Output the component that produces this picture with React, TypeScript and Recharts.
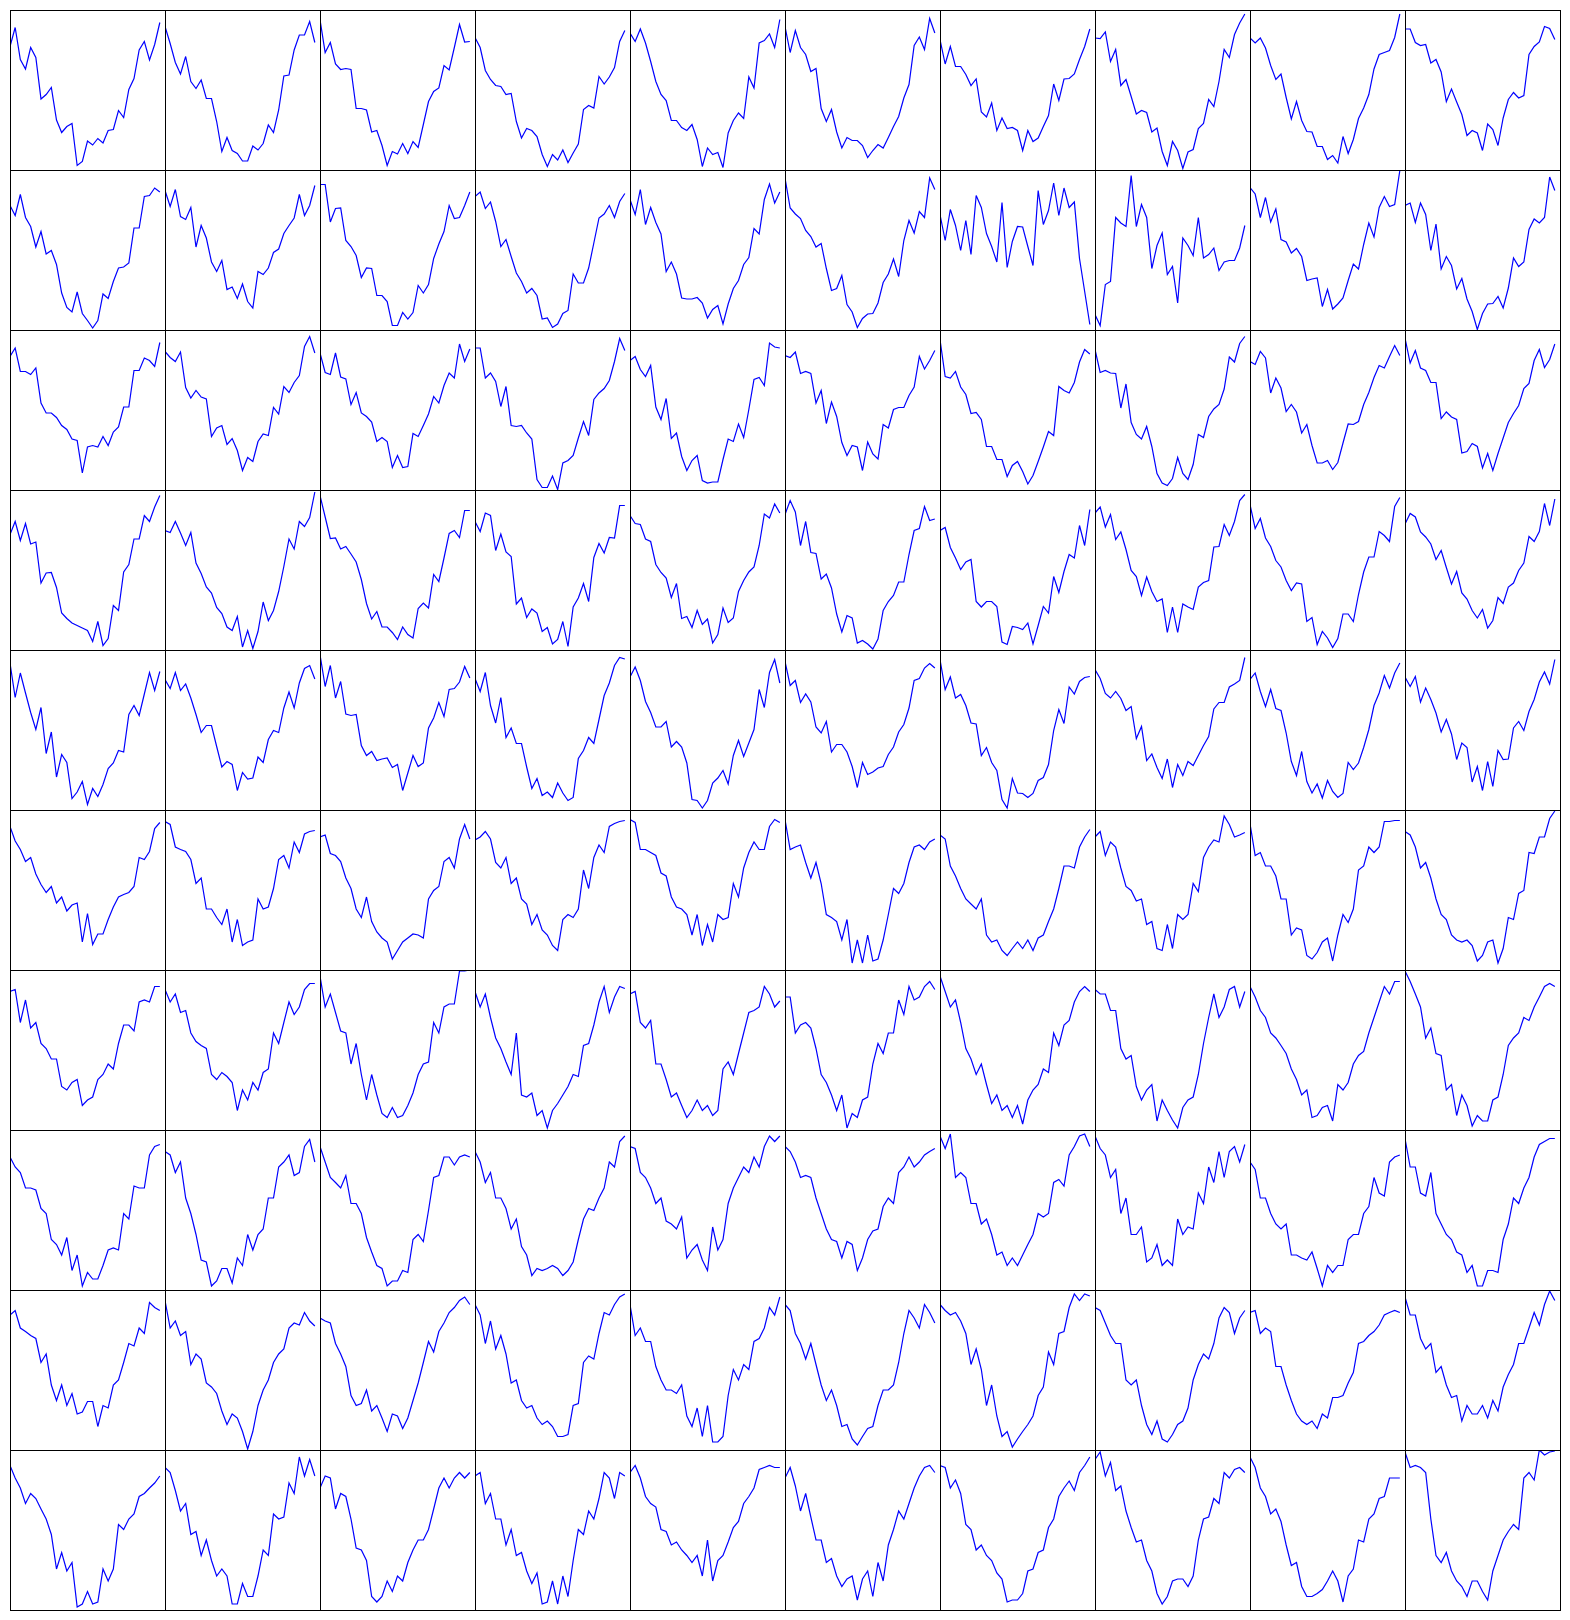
import React from "react";
import { LineChart, Line, XAxis, YAxis } from "recharts";

// 30 samples per panel, x = sample index 0..29
const SAMPLE_INDEX: number[] = Array.from({ length: 30 }, (_, i) => i);

const row0: number[][] = [
  [0.87, 1.25, 0.61, 0.42, 0.85, 0.65, -0.18, -0.09, 0.05, -0.6, -0.85, -0.73, -0.67, -1.51, -1.43, -1.02, -1.1, -0.97, -1.06, -0.81, -0.79, -0.41, -0.55, 0.01, 0.23, 0.8, 0.97, 0.6, 0.91, 1.35],
  [1.27, 0.93, 0.55, 0.32, 0.67, 0.17, 0.03, 0.2, -0.17, -0.17, -0.63, -1.23, -0.95, -1.21, -1.27, -1.42, -1.42, -1.12, -1.2, -1.07, -0.7, -0.85, -0.4, 0.28, 0.3, 0.8, 1.1, 1.1, 1.37, 0.95],
  [1.41, 0.75, 0.95, 0.52, 0.41, 0.43, 0.41, -0.37, -0.37, -0.4, -0.84, -0.81, -1.11, -1.51, -1.23, -1.28, -1.07, -1.27, -1.03, -1.15, -0.69, -0.23, -0.03, 0.04, 0.49, 0.4, 0.85, 1.31, 0.96, 0.97],
  [1.05, 0.85, 0.39, 0.21, 0.09, 0.07, -0.09, -0.07, -0.63, -0.96, -0.77, -0.81, -0.93, -1.29, -1.53, -1.29, -1.4, -1.2, -1.45, -1.26, -1.08, -0.39, -0.31, -0.36, 0.27, 0.12, 0.26, 0.45, 0.97, 1.19],
  [1.14, 0.97, 1.22, 0.94, 0.57, 0.17, -0.09, -0.21, -0.61, -0.61, -0.75, -0.81, -0.69, -0.99, -1.53, -1.16, -1.29, -1.25, -1.55, -0.86, -0.61, -0.46, -0.57, 0.26, 0.04, 0.94, 0.99, 1.12, 0.85, 1.41],
  [1.27, 0.75, 1.19, 0.85, 0.71, 0.37, 0.43, -0.37, -0.63, -0.39, -0.84, -1.16, -0.95, -1.01, -1.01, -1.11, -1.35, -1.21, -1.09, -1.16, -0.95, -0.73, -0.53, -0.16, 0.11, 0.89, 1.06, 0.81, 1.43, 1.14],
  [1.01, 0.52, 0.87, 0.47, 0.47, 0.31, 0.09, 0.22, -0.44, -0.54, -0.26, -0.81, -0.56, -0.77, -0.75, -0.81, -1.21, -0.81, -1.03, -0.96, -0.73, -0.51, 0.12, -0.21, 0.22, 0.23, 0.32, 0.61, 0.87, 1.22],
  [1.04, 1.03, 1.16, 0.57, 0.81, 0.09, 0.21, -0.13, -0.48, -0.41, -0.45, -0.84, -0.76, -1.23, -1.51, -1.03, -1.21, -1.57, -1.24, -1.19, -0.77, -0.67, -0.19, -0.33, 0.17, 0.81, 0.65, 1.11, 1.34, 1.52],
  [1.04, 0.94, 1.04, 0.84, 0.49, 0.21, 0.32, -0.15, -0.58, -0.23, -0.61, -0.83, -0.84, -1.13, -1.13, -1.39, -1.31, -1.46, -0.93, -1.27, -0.99, -0.57, -0.36, -0.09, 0.42, 0.71, 0.75, 0.79, 1.05, 1.52],
  [1.22, 1.22, 0.95, 0.89, 0.91, 0.54, 0.61, 0.36, -0.23, 0.02, -0.24, -0.49, -0.91, -0.81, -0.86, -1.21, -0.68, -0.79, -1.11, -0.56, -0.19, -0.05, -0.16, -0.11, 0.71, 0.87, 0.96, 1.27, 1.23, 1.01],
];

const row1: number[][] = [
  [0.89, 0.69, 1.11, 0.65, 0.47, 0.06, 0.37, -0.08, -0.01, -0.29, -0.86, -1.15, -1.24, -0.84, -1.27, -1.41, -1.56, -1.41, -0.88, -0.97, -0.63, -0.36, -0.34, -0.26, 0.44, 0.44, 1.07, 1.09, 1.24, 1.16],
  [1.19, 0.87, 1.21, 0.67, 0.61, 0.85, 0.06, 0.49, 0.24, -0.24, -0.43, -0.21, -0.79, -0.74, -0.97, -0.68, -1.03, -1.16, -0.43, -0.49, -0.36, -0.05, 0.02, 0.33, 0.49, 0.64, 1.11, 0.69, 0.89, 1.29],
  [1.31, 1.31, 0.56, 0.83, 0.84, 0.19, 0.07, -0.11, -0.55, -0.36, -0.37, -0.91, -0.91, -1.03, -1.51, -1.51, -1.25, -1.38, -1.25, -0.71, -0.86, -0.69, -0.17, 0.12, 0.37, 0.89, 0.63, 0.65, 0.89, 1.16],
  [1.07, 1.16, 0.83, 0.96, 0.57, 0.07, 0.21, -0.13, -0.46, -0.63, -0.86, -0.77, -0.91, -1.38, -1.36, -1.55, -1.48, -1.27, -1.21, -0.48, -0.66, -0.66, -0.36, 0.14, 0.64, 0.72, 0.89, 0.65, 0.97, 1.13],
  [1.01, 0.71, 1.21, 0.51, 0.85, 0.55, 0.32, -0.43, -0.24, -0.48, -0.96, -0.98, -0.98, -0.95, -1.06, -1.36, -1.19, -1.11, -1.48, -1.08, -0.77, -0.61, -0.29, -0.15, 0.43, 0.32, 1.01, 1.32, 0.94, 1.16],
  [1.44, 0.84, 0.72, 0.63, 0.39, 0.27, 0.06, 0.13, -0.37, -0.81, -0.77, -0.51, -1.09, -1.24, -1.55, -1.37, -1.28, -1.27, -1.06, -0.65, -0.48, -0.18, -0.53, 0.19, 0.59, 0.34, 0.77, 0.65, 1.44, 1.21],
  [0.71, 0.19, 0.81, 0.49, -0.01, 0.59, -0.09, 1.09, 0.85, 0.33, 0.07, -0.24, 0.95, -0.35, 0.17, 0.47, 0.46, 0.07, -0.31, 1.19, 0.51, 0.79, 1.34, 0.69, 1.24, 0.85, 0.96, -0.17, -0.83, -1.49],
  [-1.29, -1.51, -0.69, -0.63, 0.65, 0.54, 0.47, 1.49, 0.47, 0.91, 0.65, -0.37, 0.09, 0.34, -0.49, -0.33, -1.06, 0.24, 0.09, -0.11, 0.65, -0.16, -0.09, 0.04, -0.41, -0.24, -0.21, -0.21, 0.04, 0.49],
  [1.25, 1.12, 0.65, 1.05, 0.56, 0.82, 0.21, 0.16, -0.06, 0.03, -0.13, -0.61, -0.58, -0.56, -1.13, -0.79, -1.18, -1.08, -0.96, -0.61, -0.28, -0.38, 0.11, 0.54, 0.26, 0.85, 1.07, 0.87, 0.91, 1.59],
  [0.89, 0.94, 0.55, 0.94, 0.71, -0.01, 0.52, -0.38, -0.13, -0.31, -0.78, -0.57, -0.98, -1.23, -1.59, -1.27, -1.08, -1.07, -0.93, -1.16, -0.76, -0.16, -0.33, -0.24, 0.41, 0.62, 0.54, 0.65, 1.46, 1.19],
];

const row2: number[][] = [
  [1.07, 1.24, 0.77, 0.77, 0.71, 0.84, 0.14, -0.06, -0.06, -0.15, -0.31, -0.39, -0.58, -0.61, -1.26, -0.74, -0.71, -0.74, -0.53, -0.71, -0.44, -0.34, 0.06, 0.06, 0.79, 0.79, 1.04, 0.99, 0.87, 1.35],
  [1.17, 1.05, 0.97, 1.16, 0.45, 0.24, 0.39, 0.26, 0.22, -0.53, -0.36, -0.31, -0.69, -0.57, -0.81, -1.21, -0.95, -1.03, -0.63, -0.48, -0.51, 0.05, -0.08, 0.47, 0.35, 0.55, 0.69, 1.27, 1.47, 1.14],
  [1.14, 0.75, 0.71, 1.14, 0.66, 0.62, 0.11, 0.35, -0.06, -0.13, -0.24, -0.63, -0.55, -0.63, -1.15, -0.91, -1.15, -1.13, -0.47, -0.53, -0.31, -0.08, 0.27, 0.14, 0.49, 0.74, 0.64, 1.32, 0.97, 1.22],
  [1.24, 1.24, 0.64, 0.74, 0.57, 0.07, 0.47, -0.31, -0.33, -0.31, -0.46, -0.58, -1.39, -1.55, -1.55, -1.32, -1.59, -1.06, -1.01, -0.91, -0.56, -0.23, -0.51, 0.21, 0.34, 0.43, 0.59, 0.97, 1.43, 1.19],
  [0.99, 1.07, 0.81, 0.67, 0.89, 0.06, -0.19, 0.23, -0.57, -0.46, -0.93, -1.21, -1.01, -0.91, -1.41, -1.46, -1.44, -1.44, -0.99, -0.58, -0.63, -0.28, -0.55, 0.01, 0.61, 0.65, 0.49, 1.34, 1.26, 1.24],
  [1.09, 1.05, 1.16, 0.73, 0.77, 0.73, 0.14, 0.39, -0.27, 0.16, -0.13, -0.65, -0.91, -0.71, -0.74, -1.21, -0.64, -0.88, -0.98, -0.29, -0.36, 0.01, 0.05, 0.05, 0.29, 0.46, 1.07, 0.82, 0.99, 1.19],
  [1.41, 0.67, 0.64, 0.77, 0.46, 0.31, -0.07, -0.05, -0.19, -0.73, -0.73, -0.99, -0.99, -1.33, -1.11, -1.03, -1.23, -1.48, -1.31, -1.03, -0.74, -0.43, -0.51, 0.47, 0.39, 0.34, 0.55, 0.96, 1.21, 1.12],
  [1.21, 0.75, 0.79, 0.74, 0.73, 0.04, 0.52, -0.25, -0.49, -0.58, -0.33, -0.73, -1.27, -1.46, -1.51, -1.37, -0.95, -1.27, -1.39, -1.09, -0.49, -0.55, -0.13, 0.02, 0.11, 0.42, 1.06, 0.96, 1.33, 1.47],
  [0.97, 0.91, 1.17, 1.04, 0.34, 0.64, 0.44, -0.03, 0.11, -0.04, -0.46, -0.29, -0.71, -1.06, -1.06, -1.01, -1.19, -1.05, -0.66, -0.28, -0.29, -0.23, 0.11, 0.35, 0.65, 0.89, 0.84, 1.07, 1.29, 1.09],
  [1.44, 0.94, 1.19, 0.84, 0.79, 0.55, 0.55, -0.17, -0.04, -0.14, -0.19, -0.86, -0.83, -0.67, -0.73, -1.16, -0.87, -1.21, -0.87, -0.56, -0.25, -0.07, 0.09, 0.43, 0.53, 0.99, 1.21, 0.85, 1.01, 1.32],
];

const row3: number[][] = [
  [0.71, 0.97, 0.59, 0.93, 0.52, 0.56, -0.26, -0.06, -0.05, -0.35, -0.86, -0.97, -1.06, -1.11, -1.16, -1.21, -1.43, -1.03, -1.51, -1.37, -0.71, -0.81, -0.04, 0.11, 0.62, 0.62, 1.09, 0.97, 1.26, 1.49],
  [0.79, 0.75, 0.97, 0.74, 0.49, 0.75, 0.14, -0.07, -0.34, -0.46, -0.75, -0.87, -1.14, -1.21, -0.93, -1.54, -1.21, -1.57, -1.23, -0.64, -1.01, -0.81, -0.43, 0.07, 0.62, 0.42, 0.97, 0.87, 1.05, 1.56],
  [1.49, 1.06, 0.63, 0.64, 0.42, 0.47, 0.32, 0.16, -0.19, -0.67, -0.98, -0.83, -1.14, -1.14, -1.25, -1.39, -1.14, -1.29, -1.36, -0.77, -0.66, -0.76, -0.09, -0.23, 0.24, 0.73, 0.79, 0.65, 1.19, 1.19],
  [0.97, 0.77, 1.14, 1.09, 0.39, 0.72, 0.36, 0.27, -0.68, -0.56, -0.95, -0.78, -0.86, -1.23, -1.15, -1.48, -1.39, -1.03, -1.53, -0.74, -0.56, -0.27, -0.63, 0.25, 0.53, 0.34, 0.65, 0.64, 1.29, 1.29],
  [1.09, 0.93, 0.91, 0.62, 0.57, 0.11, -0.05, -0.16, -0.55, -0.27, -0.97, -0.93, -1.15, -0.81, -1.09, -0.98, -1.46, -1.29, -0.76, -1.05, -0.96, -0.43, -0.21, -0.04, 0.06, 0.49, 1.12, 1.04, 1.32, 1.14],
  [1.11, 1.39, 1.16, 0.49, 0.97, 0.35, 0.33, -0.18, -0.08, -0.36, -0.88, -1.24, -0.91, -0.96, -1.46, -1.41, -1.48, -1.58, -1.38, -0.81, -0.63, -0.51, -0.24, -0.24, 0.31, 0.79, 0.83, 1.27, 0.99, 1.02],
  [0.79, 0.85, 0.45, 0.24, 0.01, 0.16, 0.21, -0.63, -0.74, -0.63, -0.63, -0.73, -1.44, -1.49, -1.13, -1.15, -1.19, -1.06, -1.48, -1.11, -0.73, -0.86, -0.13, -0.45, -0.03, 0.31, 0.24, 0.89, 0.49, 1.21],
  [1.14, 1.26, 0.86, 1.11, 0.61, 0.76, 0.41, -0.01, -0.13, -0.51, -0.14, -0.43, -0.63, -0.58, -1.25, -0.74, -1.25, -0.68, -0.74, -0.79, -0.34, -0.25, -0.21, 0.46, 0.47, 0.91, 0.69, 0.97, 1.39, 1.51],
  [1.31, 0.83, 1.03, 0.64, 0.47, 0.19, 0.06, -0.21, -0.41, -0.26, -0.28, -1.03, -0.95, -1.49, -1.23, -1.36, -1.55, -1.37, -0.88, -0.88, -1.03, -0.49, -0.04, 0.26, 0.26, 0.77, 0.69, 0.57, 1.27, 1.45],
  [0.92, 1.13, 1.06, 0.76, 0.66, 0.52, 0.21, 0.39, 0.05, -0.28, -0.03, -0.46, -0.58, -0.81, -0.96, -0.79, -1.16, -1.01, -0.55, -0.67, -0.34, -0.26, -0.01, 0.14, 0.67, 0.57, 0.77, 1.33, 0.89, 1.42],
];

const row4: number[][] = [
  [1.34, 0.65, 1.14, 0.74, 0.35, 0.01, 0.45, -0.47, -0.04, -0.94, -0.49, -0.65, -1.37, -1.24, -1.03, -1.49, -1.17, -1.33, -1.09, -0.77, -0.66, -0.41, -0.44, 0.31, 0.49, 0.29, 0.72, 1.15, 0.79, 1.17],
  [1.01, 0.83, 1.15, 0.79, 0.92, 0.64, 0.31, -0.05, 0.09, 0.09, -0.33, -0.74, -0.63, -0.69, -1.21, -0.85, -0.98, -0.96, -0.54, -0.65, -0.19, -0.01, -0.05, 0.44, 0.76, 0.44, 0.94, 1.23, 1.29, 1.02],
  [1.51, 0.87, 1.29, 0.64, 0.97, 0.32, 0.29, 0.31, -0.31, -0.51, -0.43, -0.61, -0.58, -0.56, -0.75, -0.69, -1.21, -0.86, -0.51, -0.73, -0.66, 0.04, 0.24, 0.55, 0.27, 0.81, 0.83, 0.96, 1.27, 1.04],
  [1.03, 0.77, 1.15, 0.49, 0.14, 0.65, -0.15, 0.04, -0.27, -0.27, -0.74, -1.17, -0.97, -1.31, -1.24, -1.35, -1.06, -1.26, -1.41, -1.35, -0.57, -0.41, -0.15, -0.27, 0.21, 0.69, 0.94, 1.29, 1.45, 1.42],
  [1.06, 1.26, 0.99, 0.57, 0.35, 0.06, 0.06, 0.17, -0.34, -0.23, -0.34, -0.66, -1.39, -1.41, -1.56, -1.41, -1.06, -0.96, -0.81, -1.08, -0.51, -0.21, -0.53, -0.26, 0.01, 0.81, 0.45, 1.15, 1.41, 0.94],
  [1.37, 0.89, 0.99, 0.55, 0.72, 0.56, 0.06, -0.06, 0.17, -0.44, -0.29, -0.29, -0.44, -0.73, -1.15, -0.65, -0.89, -0.84, -0.76, -0.73, -0.49, -0.34, -0.04, 0.11, 0.44, 0.99, 1.03, 1.24, 1.33, 1.24],
  [1.41, 0.81, 1.06, 0.64, 0.71, 0.49, 0.14, 0.12, -0.51, -0.35, -0.65, -0.81, -1.39, -1.56, -0.97, -1.26, -1.27, -1.35, -1.27, -1.01, -0.95, -0.69, -0.01, 0.41, 0.13, 0.86, 0.72, 0.97, 1.05, 1.07],
  [1.21, 1.03, 0.73, 0.64, 0.77, 0.63, 0.39, 0.47, -0.17, 0.07, -0.61, -0.48, -0.75, -0.97, -0.58, -1.15, -0.69, -0.91, -0.63, -0.71, -0.51, -0.31, -0.13, 0.42, 0.55, 0.55, 0.86, 0.92, 0.99, 1.45],
  [1.01, 1.14, 0.77, 0.47, 0.81, 0.43, 0.39, -0.06, -0.63, -0.91, -0.43, -1.03, -1.26, -1.08, -1.36, -1.01, -1.23, -1.35, -1.27, -0.65, -0.79, -0.66, -0.35, 0.01, 0.49, 0.74, 1.09, 0.84, 1.14, 1.34],
  [1.06, 0.87, 1.07, 0.56, 0.84, 0.61, 0.34, -0.04, 0.21, -0.08, -0.59, -0.26, -0.35, -1.04, -0.73, -1.21, -0.63, -1.13, -0.41, -0.59, -0.58, 0.04, 0.17, -0.01, 0.37, 0.61, 0.96, 1.16, 0.92, 1.41],
];

const row5: number[][] = [
  [1.27, 0.98, 0.81, 0.57, 0.65, 0.32, 0.11, -0.05, 0.07, -0.26, -0.14, -0.42, -0.3, -0.26, -1.04, -0.47, -1.09, -0.88, -0.88, -0.59, -0.34, -0.14, -0.09, -0.05, 0.07, 0.65, 0.61, 0.77, 1.23, 1.35],
  [1.37, 1.31, 0.86, 0.81, 0.77, 0.61, 0.13, 0.24, -0.38, -0.38, -0.55, -0.69, -0.38, -1.04, -0.59, -1.11, -1.04, -1.0, -0.18, -0.38, -0.34, 0.03, 0.61, 0.69, 0.44, 0.96, 0.75, 1.12, 1.17, 1.19],
  [1.06, 1.1, 0.73, 0.69, 0.57, 0.24, 0.03, -0.38, -0.55, -0.14, -0.63, -0.84, -0.96, -1.04, -1.38, -1.21, -1.04, -0.96, -0.88, -0.9, -0.96, -0.18, -0.01, 0.07, 0.57, 0.65, 0.44, 1.02, 1.31, 1.02],
  [1.0, 1.06, 1.17, 1.02, 0.55, 0.44, 0.65, 0.13, 0.24, -0.18, -0.28, -0.69, -0.49, -0.8, -0.9, -1.11, -1.21, -0.59, -0.49, -0.55, -0.38, 0.4, 0.03, 0.65, 0.9, 0.75, 1.27, 1.33, 1.37, 1.39],
  [1.41, 1.35, 0.81, 0.81, 0.75, 0.69, 0.34, 0.28, -0.14, -0.34, -0.38, -0.49, -0.9, -0.49, -1.11, -0.69, -1.04, -0.49, -0.59, -0.55, 0.13, -0.14, 0.44, 0.75, 0.96, 0.81, 0.81, 1.27, 1.41, 1.35],
  [1.41, 0.81, 0.86, 0.9, 0.55, 0.24, 0.55, 0.13, -0.49, -0.55, -0.63, -1.0, -0.59, -1.46, -1.0, -1.46, -0.9, -1.42, -1.38, -1.0, -0.49, 0.03, -0.07, 0.13, 0.55, 0.86, 0.9, 0.81, 0.96, 1.02],
  [1.1, 1.02, 0.48, 0.28, 0.03, -0.18, -0.28, -0.38, -0.18, -0.9, -1.04, -1.0, -1.21, -1.31, -1.17, -1.04, -1.17, -1.0, -1.21, -0.96, -0.9, -0.63, -0.38, 0.03, 0.48, 0.48, 0.44, 0.86, 1.06, 1.21],
  [1.06, 1.17, 0.69, 0.96, 0.86, 0.44, 0.07, -0.01, -0.22, -0.18, -0.69, -0.63, -1.17, -1.21, -0.69, -1.17, -0.49, -0.59, -0.49, 0.13, -0.03, 0.65, 0.86, 1.0, 0.96, 1.48, 1.31, 1.06, 1.1, 1.15],
  [1.33, 0.69, 0.75, 0.48, 0.48, 0.28, -0.18, -0.18, -0.9, -0.76, -0.8, -1.31, -1.38, -1.25, -1.04, -0.96, -1.42, -0.9, -0.49, -0.65, -0.38, 0.4, 0.48, 0.86, 0.75, 0.86, 1.37, 1.37, 1.39, 1.39],
  [1.17, 1.1, 0.86, 0.44, 0.55, 0.24, -0.18, -0.49, -0.59, -0.9, -1.0, -1.04, -1.0, -1.11, -1.42, -1.31, -1.04, -1.0, -1.46, -1.17, -0.55, -0.59, -0.07, -0.01, 0.75, 0.73, 1.06, 1.06, 1.43, 1.58],
];

const row6: number[][] = [
  [1.17, 1.21, 0.55, 1.0, 0.44, 0.55, 0.13, 0.03, -0.18, -0.18, -0.73, -0.8, -0.65, -0.59, -1.11, -1.0, -0.94, -0.59, -0.49, -0.28, -0.38, 0.13, 0.5, 0.5, 0.38, 0.96, 1.0, 0.96, 1.27, 1.27],
  [1.21, 0.96, 1.12, 0.75, 0.79, 0.34, 0.17, 0.09, 0.03, -0.49, -0.59, -0.45, -0.53, -0.65, -1.21, -0.8, -1.0, -0.65, -0.8, -0.45, -0.38, 0.34, 0.13, 0.55, 0.96, 0.71, 0.86, 1.21, 1.33, 1.33],
  [1.48, 0.86, 1.12, 0.75, 0.38, 0.34, -0.28, 0.13, -0.49, -1.0, -0.49, -0.9, -1.27, -1.35, -1.15, -1.35, -1.31, -1.11, -0.86, -0.49, -0.28, -0.24, 0.55, 0.34, 0.86, 0.92, 0.92, 1.58, 1.58, 1.6],
  [1.17, 0.86, 1.12, 0.65, 0.24, 0.03, -0.24, -0.49, 0.34, -0.9, -0.94, -0.86, -1.31, -1.21, -1.56, -1.21, -1.07, -0.9, -0.73, -0.49, -0.53, 0.09, 0.13, 0.5, 0.96, 1.27, 0.75, 1.06, 1.27, 1.23],
  [1.12, 1.17, 0.55, 0.44, 0.59, -0.28, -0.28, -0.59, -0.94, -0.86, -1.11, -1.35, -1.21, -1.0, -1.21, -1.11, -1.31, -1.21, -0.38, -0.24, -0.49, -0.07, 0.34, 0.75, 0.79, 0.86, 1.27, 1.12, 0.86, 0.98],
  [1.06, 1.06, 0.34, 0.5, 0.55, 0.44, 0.03, -0.49, -0.65, -0.9, -1.21, -0.9, -1.56, -1.27, -1.35, -1.0, -0.94, -0.28, 0.13, -0.07, 0.34, 0.34, 1.0, 0.71, 1.27, 1.0, 1.06, 1.27, 1.37, 1.21],
  [1.48, 1.17, 0.86, 1.0, 0.55, 0.03, -0.18, -0.49, -0.28, -0.69, -1.07, -0.9, -1.21, -1.11, -1.35, -1.11, -1.48, -1.0, -0.8, -0.69, -0.38, -0.45, 0.34, 0.09, 0.5, 0.59, 0.96, 1.17, 1.27, 1.17],
  [1.21, 1.12, 1.12, 0.79, 0.79, 0.03, -0.18, -0.11, -0.73, -1.0, -0.8, -0.69, -1.42, -1.0, -1.21, -1.4, -1.56, -1.15, -1.0, -0.94, -0.49, 0.13, 0.65, 1.12, 0.65, 0.86, 1.21, 1.27, 0.86, 1.17],
  [1.27, 1.06, 0.79, 0.65, 0.34, 0.24, 0.09, -0.07, -0.38, -0.59, -0.9, -0.8, -1.35, -1.31, -1.15, -1.11, -1.42, -0.69, -0.8, -0.65, -0.28, -0.11, -0.03, 0.34, 0.65, 0.96, 1.27, 1.12, 1.37, 1.37],
  [1.58, 1.37, 1.12, 0.86, 0.24, 0.44, -0.07, -0.11, -0.8, -0.69, -1.31, -0.9, -1.11, -1.52, -1.31, -1.42, -1.42, -1.0, -0.94, -0.49, 0.09, 0.24, 0.34, 0.65, 0.59, 0.86, 1.06, 1.27, 1.33, 1.27],
];

const row7: number[][] = [
  [1.06, 0.86, 0.75, 0.44, 0.44, 0.4, 0.03, -0.07, -0.59, -0.69, -0.9, -0.55, -1.21, -0.9, -1.52, -1.25, -1.38, -1.38, -1.11, -0.8, -0.76, -0.8, -0.07, -0.18, 0.48, 0.44, 0.44, 1.1, 1.27, 1.31],
  [1.17, 1.1, 0.75, 0.96, 0.24, -0.07, -0.49, -1.0, -1.04, -1.52, -1.42, -1.17, -1.17, -1.46, -0.96, -1.11, -0.49, -0.8, -0.49, -0.38, 0.24, 0.24, 0.86, 0.96, 1.1, 0.69, 0.75, 1.27, 1.41, 0.96],
  [1.27, 0.96, 0.65, 0.55, 0.44, 0.69, 0.13, 0.13, -0.07, -0.55, -0.84, -1.11, -1.17, -1.52, -1.42, -1.42, -1.21, -1.25, -0.59, -0.49, -0.63, -0.01, 0.65, 0.69, 1.06, 1.06, 0.9, 1.06, 1.1, 1.06],
  [1.17, 0.96, 0.55, 0.75, 0.24, 0.24, 0.03, -0.38, -0.18, -0.73, -0.9, -1.31, -1.17, -1.21, -1.17, -1.11, -1.17, -1.31, -1.21, -1.04, -0.59, -0.18, 0.03, -0.01, 0.24, 0.44, 0.96, 0.86, 1.37, 1.48],
  [1.27, 1.23, 0.75, 0.65, 0.44, 0.13, 0.24, -0.22, -0.28, -0.38, -0.14, -0.96, -0.8, -0.69, -1.0, -1.21, -0.34, -0.8, -0.59, 0.13, 0.44, 0.65, 0.86, 0.75, 1.06, 0.86, 1.27, 1.48, 1.37, 1.48],
  [1.27, 1.17, 0.96, 0.65, 0.69, 0.65, 0.24, -0.07, -0.38, -0.59, -0.63, -0.96, -0.63, -0.69, -1.21, -0.96, -0.59, -0.42, -0.38, 0.07, 0.24, 0.13, 0.75, 0.86, 1.06, 0.86, 0.96, 1.1, 1.17, 1.23],
  [1.48, 1.23, 1.52, 0.65, 0.75, 0.65, 0.13, 0.13, -0.28, -0.18, -0.49, -0.9, -0.84, -1.11, -0.96, -1.11, -0.9, -0.69, -0.49, -0.07, -0.14, -0.07, 0.55, 0.61, 0.48, 1.1, 1.27, 1.48, 1.52, 1.27],
  [1.48, 1.23, 1.1, 0.65, 0.81, -0.07, 0.24, -0.49, -0.49, -0.34, -1.04, -0.96, -0.69, -1.11, -1.0, -1.11, -0.18, -0.49, -0.34, -0.38, 0.34, 0.13, 0.86, 0.55, 1.17, 0.65, 1.17, 1.27, 0.96, 1.31],
  [0.96, 0.81, 0.24, 0.24, -0.07, -0.28, -0.38, -0.28, -0.9, -0.9, -0.96, -1.0, -0.84, -1.17, -1.52, -1.11, -1.25, -1.11, -1.11, -0.59, -0.49, -0.49, -0.07, 0.07, 0.65, 0.34, 0.28, 0.96, 1.06, 1.1],
  [1.43, 0.86, 0.86, 0.34, 0.28, 0.75, -0.07, -0.28, -0.49, -0.59, -0.84, -0.9, -1.25, -1.11, -1.52, -1.52, -1.21, -1.21, -1.25, -0.59, -0.28, 0.24, 0.13, 0.44, 0.65, 1.06, 1.31, 1.37, 1.43, 1.43],
];

const row8: number[][] = [
  [1.1, 1.19, 0.84, 0.77, 0.69, 0.63, 0.15, 0.32, -0.3, -0.61, -0.3, -0.71, -0.47, -0.88, -0.84, -0.63, -0.63, -1.13, -0.71, -0.76, -0.3, -0.2, 0.15, 0.53, 0.48, 0.84, 0.73, 1.35, 1.25, 1.19],
  [1.39, 0.84, 0.98, 0.69, 0.77, 0.11, 0.32, 0.22, -0.26, -0.34, -0.47, -0.82, -1.09, -0.88, -0.96, -1.23, -1.58, -1.23, -0.71, -0.4, -0.2, 0.15, 0.32, 0.42, 0.84, 0.94, 0.9, 1.15, 0.98, 0.88],
  [1.04, 0.98, 0.94, 0.53, 0.32, 0.07, -0.51, -0.71, -0.67, -0.4, -0.82, -0.71, -0.96, -1.23, -0.88, -0.92, -1.17, -0.96, -0.61, -0.26, 0.15, 0.57, 0.36, 0.77, 0.94, 1.15, 1.25, 1.39, 1.46, 1.31],
  [1.31, 1.1, 0.53, 0.98, 0.42, 0.69, 0.32, -0.26, -0.2, -0.61, -0.76, -0.71, -0.96, -1.09, -1.02, -1.13, -1.33, -1.33, -1.29, -0.71, -0.67, 0.15, 0.28, 0.22, 0.73, 1.15, 1.1, 1.31, 1.46, 1.52],
  [1.31, 0.69, 0.84, 0.57, 0.57, 0.07, -0.2, -0.4, -0.4, -0.47, -0.3, -0.92, -1.13, -0.76, -1.33, -0.71, -1.44, -1.44, -1.33, -0.51, 0.01, -0.2, 0.11, 0.01, 0.57, 0.63, 0.84, 1.25, 1.1, 1.46],
  [1.31, 1.19, 0.73, 0.53, 0.22, 0.53, 0.11, -0.3, -0.61, -0.4, -0.71, -1.13, -1.09, -1.38, -1.5, -1.33, -1.17, -1.13, -0.71, -0.4, -0.4, -0.3, 0.15, 0.73, 1.19, 1.04, 0.84, 1.31, 1.15, 0.94],
  [1.31, 1.19, 1.1, 1.15, 0.98, 0.73, 0.11, 0.42, 0.01, -0.71, -0.3, -0.92, -1.33, -1.23, -1.54, -1.38, -1.23, -1.09, -0.92, -0.51, -0.34, 0.36, 0.11, 0.73, 0.77, 1.25, 1.52, 1.39, 1.52, 1.48],
  [1.25, 1.19, 0.94, 0.69, 0.53, 0.53, -0.2, -0.3, -0.2, -0.71, -1.09, -1.29, -1.02, -1.38, -1.44, -1.29, -1.09, -1.02, -0.76, -0.2, 0.11, 0.32, 0.22, 0.53, 1.04, 1.25, 1.15, 0.73, 1.04, 1.19],
  [1.15, 1.19, 0.73, 0.84, 0.77, 0.07, 0.07, -0.3, -0.61, -0.88, -1.02, -1.09, -1.02, -1.17, -0.88, -0.96, -0.55, -0.55, -0.51, -0.26, -0.05, 0.53, 0.57, 0.69, 0.77, 0.9, 1.1, 1.15, 1.19, 1.15],
  [1.46, 1.1, 1.1, 0.63, 0.42, 0.53, -0.05, 0.07, -0.3, -0.55, -0.51, -1.02, -0.71, -0.88, -0.88, -0.71, -0.96, -0.61, -0.82, -0.34, -0.09, 0.11, 0.53, 0.53, 0.84, 1.15, 0.9, 1.31, 1.58, 1.39],
];

const row9: number[][] = [
  [1.29, 1.04, 0.84, 0.53, 0.73, 0.63, 0.42, 0.22, -0.09, -0.78, -0.45, -0.82, -0.65, -1.54, -1.48, -1.23, -1.48, -1.44, -0.78, -1.02, -0.78, 0.11, 0.01, 0.22, 0.32, 0.67, 0.73, 0.84, 0.94, 1.08],
  [1.25, 1.15, 0.79, 0.38, 0.53, -0.09, -0.03, -0.51, -0.2, -0.61, -0.92, -0.78, -0.92, -1.48, -1.48, -1.07, -1.33, -1.33, -0.92, -0.4, -0.51, 0.32, 0.22, 0.26, 0.94, 0.73, 1.46, 1.08, 1.41, 1.08],
  [0.84, 1.08, 1.04, 0.42, 0.73, 0.67, 0.22, -0.36, -0.4, -0.61, -1.33, -1.44, -1.33, -1.02, -1.23, -0.92, -1.02, -0.65, -0.4, -0.2, -0.2, 0.01, 0.42, 0.84, 1.04, 0.84, 1.04, 1.15, 1.04, 1.15],
  [1.08, 1.15, 0.53, 0.73, 0.22, 0.22, -0.3, 0.01, -0.51, -0.45, -0.82, -1.07, -0.86, -1.48, -1.44, -1.02, -1.48, -0.92, -1.33, -0.61, 0.01, -0.09, 0.38, 0.22, 0.63, 1.15, 1.04, 0.63, 1.15, 1.08],
  [1.15, 1.29, 1.04, 0.67, 0.53, 0.46, 0.01, -0.03, -0.3, -0.24, -0.4, -0.51, -0.65, -0.51, -0.92, -0.2, -1.02, -0.61, -0.51, -0.24, 0.05, 0.17, 0.53, 0.67, 0.84, 1.21, 1.25, 1.29, 1.25, 1.25],
  [1.04, 1.25, 0.88, 0.38, 0.73, 0.26, -0.2, -0.2, -0.65, -0.57, -0.92, -1.13, -0.98, -0.92, -1.4, -0.98, -0.82, -1.33, -0.65, -1.02, -0.3, 0.01, 0.38, 0.22, 0.53, 0.84, 1.08, 1.25, 1.29, 1.15],
  [1.29, 1.25, 0.84, 1.0, 0.73, 0.11, 0.01, -0.4, -0.3, -0.51, -0.61, -0.86, -0.98, -1.44, -1.4, -1.4, -1.27, -0.82, -0.78, -0.45, -0.4, 0.05, 0.22, 0.67, 0.84, 0.98, 0.79, 1.15, 1.29, 1.46],
  [1.41, 1.56, 1.08, 1.35, 0.79, 0.88, 0.38, 0.05, -0.24, -0.2, -0.61, -0.82, -1.27, -1.48, -1.33, -1.02, -0.98, -0.98, -1.13, -0.92, -0.2, 0.22, 0.26, 0.63, 0.53, 1.15, 1.04, 1.21, 1.25, 1.15],
  [1.46, 1.25, 0.84, 0.67, 0.32, 0.42, 0.17, -0.3, -0.71, -0.65, -1.13, -1.33, -1.33, -1.27, -1.19, -1.02, -0.82, -1.02, -1.44, -0.92, -0.78, -0.2, -0.24, 0.22, 0.32, 0.63, 0.67, 1.04, 1.04, 1.04],
  [1.56, 1.25, 1.29, 1.25, 1.15, 0.22, -0.51, -0.65, -0.45, -0.82, -1.02, -1.13, -1.33, -1.02, -1.02, -1.23, -1.4, -0.82, -0.51, -0.2, -0.03, 0.11, 0.01, 1.04, 1.15, 1.0, 1.6, 1.5, 1.56, 1.58],
];

const ROWS: number[][][] = [row0, row1, row2, row3, row4, row5, row6, row7, row8, row9];
const N_ROWS = 10;
const N_COLS = 10;
const Y_DOMAIN: [number, number] = [-1.6, 1.6];
const X_DOMAIN: [number, number] = [0, 30];

const CELL_W = 155;
const CELL_H = 160;
const LINE_COLOR = "#0000ff";

function Panel({ values }: { values: number[] }) {
  const data = values.map((v, i) => ({ x: SAMPLE_INDEX[i], y: v }));
  return (
    <LineChart width={CELL_W} height={CELL_H} data={data} margin={{ top: 0, right: 0, bottom: 0, left: 0 }}>
      <XAxis dataKey="x" type="number" domain={X_DOMAIN} hide />
      <YAxis type="number" domain={Y_DOMAIN} hide allowDataOverflow />
      <Line
        type="linear"
        dataKey="y"
        stroke={LINE_COLOR}
        strokeWidth={1.2}
        dot={false}
        activeDot={false}
        isAnimationActive={false}
      />
    </LineChart>
  );
}

export default function App() {
  const cells: React.ReactNode[] = [];
  for (let r = 0; r < N_ROWS; r++) {
    for (let c = 0; c < N_COLS; c++) {
      const vals = ROWS[r][c];
      cells.push(
        <div
          key={`c-${r}-${c}`}
          style={{ position: "absolute", left: c * CELL_W, top: r * CELL_H, width: CELL_W, height: CELL_H }}
        >
          {vals && vals.length ? <Panel values={vals} /> : null}
        </div>
      );
    }
  }
  const lines: React.ReactNode[] = [];
  for (let c = 0; c <= N_COLS; c++) {
    lines.push(
      <div
        key={`v-${c}`}
        style={{ position: "absolute", left: c * CELL_W - 0.5, top: -0.5, width: 1.2, height: N_ROWS * CELL_H + 1, background: "#000" }}
      />
    );
  }
  for (let r = 0; r <= N_ROWS; r++) {
    lines.push(
      <div
        key={`h-${r}`}
        style={{ position: "absolute", top: r * CELL_H - 0.5, left: -0.5, height: 1.2, width: N_COLS * CELL_W + 1, background: "#000" }}
      />
    );
  }
  return (
    <div style={{ position: "absolute", left: 10, top: 10, width: N_COLS * CELL_W, height: N_ROWS * CELL_H }}>
      {cells}
      {lines}
    </div>
  );
}
